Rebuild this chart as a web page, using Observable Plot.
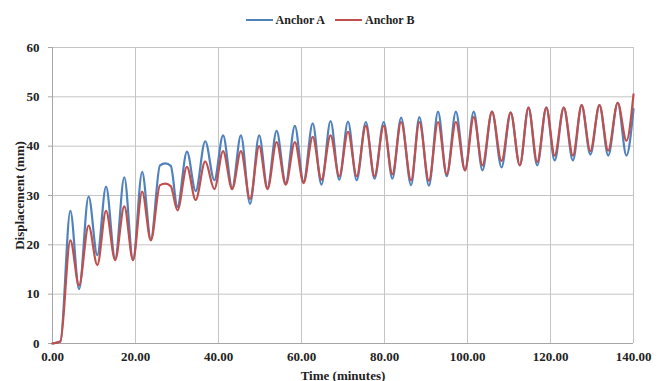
<!DOCTYPE html>
<html>
<head>
<meta charset="utf-8">
<script src="https://cdn.jsdelivr.net/npm/d3@7"></script>
<script src="https://cdn.jsdelivr.net/npm/@observablehq/plot@0.6"></script>
<style>
  html, body { margin: 0; padding: 0; background: #fff; }
  #legend { box-sizing: content-box; height: 16px; padding-top: 12px; display: flex; justify-content: center; align-items: center;
    font: bold 12px "Liberation Serif", "Times New Roman", serif; color: #222; line-height: 16px; }
  .item { display: flex; align-items: center; margin: 0 5px; }
  .sw { display: inline-block; width: 27px; height: 2px; margin-right: 3px; }
</style>
</head>
<body>
<div id="legend"></div>
<div id="chart"></div>
<script>
// Extreme points (peaks/troughs)
const minutes = [0, 1.9, 4.3, 6.4, 8.7, 10.8, 12.9, 15.1, 17.3, 19.4, 21.6, 23.7, 25.9, 27.2, 28.5, 30.1, 32.4, 34.5, 36.8, 39.0, 41.1,
  43.3, 45.4, 47.6, 49.8, 51.8, 54.0, 56.2, 58.4, 60.5, 62.7, 64.8, 67.0, 69.1, 71.2, 73.3, 75.5, 77.6, 79.8, 81.9, 84.0,
  86.4, 88.4, 90.7, 92.9, 95.0, 97.2, 99.4, 101.5, 103.6, 105.9, 108.2, 110.4, 112.6, 114.7, 116.8, 119.0, 121.0, 123.2,
  125.4, 127.5, 129.6, 131.8, 133.9, 136.2, 138.3, 140.0];
const anchorA = [0, 0.4, 26.9, 11.0, 29.8, 17.9, 31.8, 17.1, 33.7, 16.9, 34.8, 21.1, 36.1, 36.5, 36.0, 27.7, 38.9, 30.9, 41.0, 33.1, 42.2,
  31.5, 42.2, 28.3, 42.2, 31.5, 43.1, 32.5, 44.1, 32.8, 44.6, 32.2, 45.1, 33.2, 45.0, 33.1, 44.9, 33.4, 44.9, 33.4, 45.8,
  32.1, 45.9, 32.0, 47.0, 33.9, 47.0, 35.1, 47.0, 35.1, 47.0, 35.7, 46.8, 36.1, 47.8, 36.1, 47.8, 37.1, 47.8,
  37.1, 48.3, 38.3, 48.3, 38.1, 48.8, 38.1, 47.5];
const anchorB = [0, 0.4, 20.9, 11.8, 23.9, 15.9, 26.9, 16.9, 27.8, 16.9, 30.8, 20.9, 32.1, 32.4, 31.9, 27.0, 35.8, 29.1, 36.9, 31.3, 39.0,
  31.3, 39.0, 29.3, 40.0, 31.3, 40.8, 32.2, 40.8, 32.5, 41.9, 33.2, 42.2, 33.9, 42.9, 33.9, 44.1, 33.9, 44.1, 34.3, 44.9,
  33.1, 44.9, 33.0, 44.9, 34.3, 44.9, 35.1, 45.9, 36.1, 47.0, 37.0, 46.8, 36.1, 47.8, 36.8, 47.8, 38.1, 47.8,
  38.1, 48.3, 39.0, 48.3, 39.1, 48.8, 41.1, 50.5];
const seriesNames = ["Anchor A", "Anchor B"];
const seriesColors = ["#4f81bd", "#c0504d"];
const xTicks = [0, 20, 40, 60, 80, 100, 120, 140];
const yTicks = [0, 10, 20, 30, 40, 50, 60];

const rowsA = minutes.map((t, i) => ({t, v: anchorA[i]}));
const rowsB = minutes.map((t, i) => ({t, v: anchorB[i]}));

// legend
const legend = document.getElementById("legend");
seriesNames.forEach((name, i) => {
  const item = document.createElement("span");
  item.className = "item";
  const sw = document.createElement("span");
  sw.className = "sw";
  sw.style.background = seriesColors[i];
  item.appendChild(sw);
  item.appendChild(document.createTextNode(name));
  legend.appendChild(item);
});

const chart = Plot.plot({
  width: 660,
  height: 353,
  marginTop: 19,
  marginBottom: 38,
  marginLeft: 52,
  marginRight: 27,
  style: {fontFamily: "'Liberation Serif', 'Times New Roman', serif", fontSize: "13px", fontWeight: "bold", color: "#222", background: "#fff"},
  x: {domain: [0, 140]},
  y: {domain: [0, 60]},
  marks: [
    Plot.gridX(xTicks, {stroke: "#c4c4c4", strokeOpacity: 1}),
    Plot.gridY(yTicks, {stroke: "#c4c4c4", strokeOpacity: 1}),
    Plot.ruleX([0], {stroke: "#a6a6a6"}),
    Plot.ruleY([0], {stroke: "#a6a6a6"}),
    Plot.axisX(xTicks, {tickFormat: d3.format(".2f"), tickSize: 0, tickPadding: 8, label: "Time (minutes)", labelAnchor: "center", labelOffset: 36, labelArrow: "none"}),
    Plot.axisY(yTicks, {tickFormat: d3.format("d"), tickSize: 4, stroke: "#a6a6a6", tickPadding: 9, label: "Displacement (mm)", labelAnchor: "center", labelOffset: 38, labelArrow: "none"}),
    Plot.line(rowsA, {x: "t", y: "v", stroke: seriesColors[0], strokeWidth: 2.2, curve: "monotone-x"}),
    Plot.line(rowsB, {x: "t", y: "v", stroke: seriesColors[1], strokeWidth: 2.2, curve: "monotone-x"})
  ]
});
document.getElementById("chart").appendChild(chart);
</script>
</body>
</html>
